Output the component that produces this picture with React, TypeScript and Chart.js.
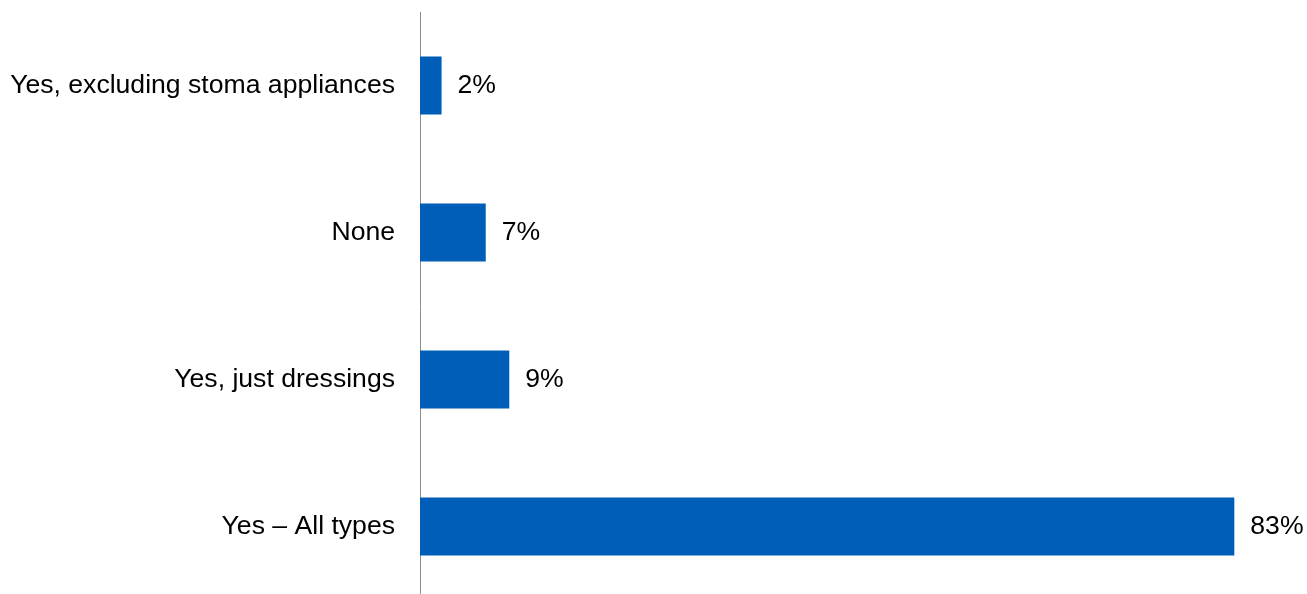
import React, { useEffect, useRef } from "react";
import { Chart, registerables } from "chart.js";

Chart.register(...registerables);

const categories = [
  "Yes, excluding stoma appliances",
  "None",
  "Yes, just dressings",
  "Yes – All types",
];
const values = [2.2, 6.7, 9.1, 83];
const valueLabels = ["2%", "7%", "9%", "83%"];

const FONT = "Arial, 'Liberation Sans', sans-serif";
const FONT_SIZE = 26.6;

const dataLabelPlugin = {
  id: "dataLabels",
  afterDatasetsDraw(chart: any) {
    const ctx = chart.ctx;
    const meta = chart.getDatasetMeta(0);
    ctx.save();
    ctx.font = `${FONT_SIZE}px ${FONT}`;
    ctx.fillStyle = "#000000";
    ctx.textAlign = "left";
    ctx.textBaseline = "middle";
    meta.data.forEach((bar: any, i: number) => {
      ctx.fillText(valueLabels[i], bar.x + 16, bar.y);
    });
    ctx.restore();
  },
};

export default function App() {
  const ref = useRef<HTMLCanvasElement>(null);
  useEffect(() => {
    const chart = new Chart(ref.current!, {
      type: "bar",
      data: {
        labels: categories,
        datasets: [
          {
            data: values,
            backgroundColor: "#005EB8",
            borderWidth: 0,
            barPercentage: 0.395,
            categoryPercentage: 1,
          },
        ],
      },
      options: {
        indexAxis: "y",
        animation: false,
        responsive: false,
        layout: { padding: { top: 12, right: 4, bottom: 0, left: 0 } },
        plugins: { legend: { display: false }, tooltip: { enabled: false } },
        scales: {
          x: { display: false, min: 0, max: 90 },
          y: {
            grid: { display: false, drawTicks: false },
            border: { display: true, color: "#8c8c8c", width: 1 },
            ticks: {
              color: "#000000",
              font: { family: FONT, size: FONT_SIZE },
              padding: 25,
            },
            afterFit(scale: any) {
              scale.width = 420;
              scale.paddingTop = 0;
              scale.paddingBottom = 0;
            },
          },
        },
      },
      plugins: [dataLabelPlugin],
    });
    return () => chart.destroy();
  }, []);
  return (
    <canvas
      ref={ref}
      width={1307}
      height={600}
      style={{ position: "absolute", left: 0, top: 0, display: "block" }}
    />
  );
}
